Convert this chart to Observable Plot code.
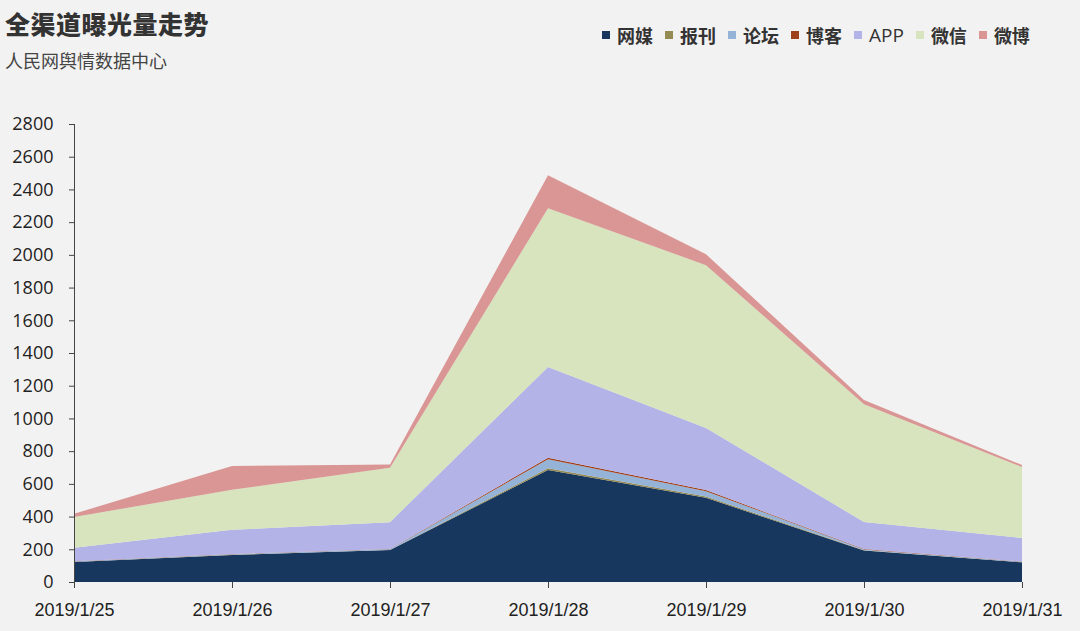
<!DOCTYPE html>
<html><head><meta charset="utf-8">
<script src="https://cdn.jsdelivr.net/npm/d3@7"></script>
<script src="https://cdn.jsdelivr.net/npm/@observablehq/plot@0.6"></script>
<style>
body{margin:0;background:#f3f2f2;}
#wrap{position:relative;width:1080px;height:631px;background:#f3f2f2;overflow:hidden;font-family:"Noto Sans CJK SC",sans-serif;}
#title{position:absolute;left:5px;top:5px;font-size:25px;font-weight:900;color:#333;letter-spacing:0.5px;}
#sub{position:absolute;left:5px;top:47px;font-size:18px;color:#444;}
#legend{position:absolute;left:602px;top:22px;display:flex;align-items:center;font-size:18px;font-weight:bold;color:#333;}
#legend .it{display:flex;align-items:center;margin-right:12px;}
#legend .sw{width:8px;height:8px;margin-right:7px;}
#chart{position:absolute;left:0;top:0;}
</style></head>
<body><div id="wrap"><div id="chart"></div><div id="title"></div><div id="sub"></div><div id="legend"></div></div>
<script>
const dates = ["2019/1/25","2019/1/26","2019/1/27","2019/1/28","2019/1/29","2019/1/30","2019/1/31"];
const seriesNames = ["网媒","报刊","论坛","博客","APP","微信","微博"];
const colors = ["#17375e","#948a54","#95b3d7","#a0401a","#b3b3e8","#d7e4bd","#d99694"];
const wangmei = [122, 165, 195, 685, 515, 192, 120];
const baokan  = [1, 1, 1, 10, 8, 2, 1];
const luntan  = [3, 4, 4, 55, 32, 5, 3];
const boke    = [1, 1, 1, 10, 8, 2, 1];
const app     = [82, 148, 165, 554, 378, 166, 144];
const weixin  = [188, 245, 332, 971, 996, 720, 434];
const weibo   = [20, 145, 20, 202, 67, 25, 12];
const yTicks = [0,200,400,600,800,1000,1200,1400,1600,1800,2000,2200,2400,2600,2800];
const titleText = "全渠道曝光量走势";
const subText = "人民网舆情数据中心";

const seriesValues = [wangmei, baokan, luntan, boke, app, weixin, weibo];
const data = [];
seriesNames.forEach((s, i) => dates.forEach((d, j) => data.push({date: d, series: s, value: seriesValues[i][j]})));

const chart = Plot.plot({
  width: 1080, height: 631,
  marginTop: 124, marginBottom: 49, marginLeft: 74, marginRight: 58,
  style: {background: "transparent", fontFamily: "Liberation Sans, Arial, sans-serif", fontSize: "17px", color: "#222"},
  x: {type: "point", domain: dates, padding: 0, label: null},
  y: {domain: [0, 2800], label: null},
  color: {domain: seriesNames, range: colors},
  marks: [
    Plot.areaY(data, {x: "date", y: "value", fill: "series", z: "series", order: seriesNames, fillOpacity: 1}),
    Plot.axisY({ticks: yTicks, tickFormat: d => String(d), tickSize: 5, tickPadding: 16, stroke: "#444", fontSize: 18, fontFamily: "Open Sans, sans-serif", label: null}),
    Plot.ruleX([dates[0]], {stroke: "#444", y1: 0, y2: 2800}),
    Plot.axisX({tickSize: 6, tickPadding: 15, stroke: "#444", fontSize: 18, label: null})
  ]
});
document.getElementById("chart").appendChild(chart);
document.getElementById("title").textContent = titleText;
document.getElementById("sub").textContent = subText;
const lg = document.getElementById("legend");
seriesNames.forEach((s, i) => {
  const it = document.createElement("div"); it.className = "it";
  const sw = document.createElement("div"); sw.className = "sw"; sw.style.background = colors[i];
  const t = document.createElement("span"); t.textContent = s;
  if (s === "APP") { t.style.fontWeight = "normal"; t.style.fontFamily = "Open Sans, sans-serif"; t.style.fontSize = "19px"; }
  it.appendChild(sw); it.appendChild(t); lg.appendChild(it);
});
</script></body></html>
